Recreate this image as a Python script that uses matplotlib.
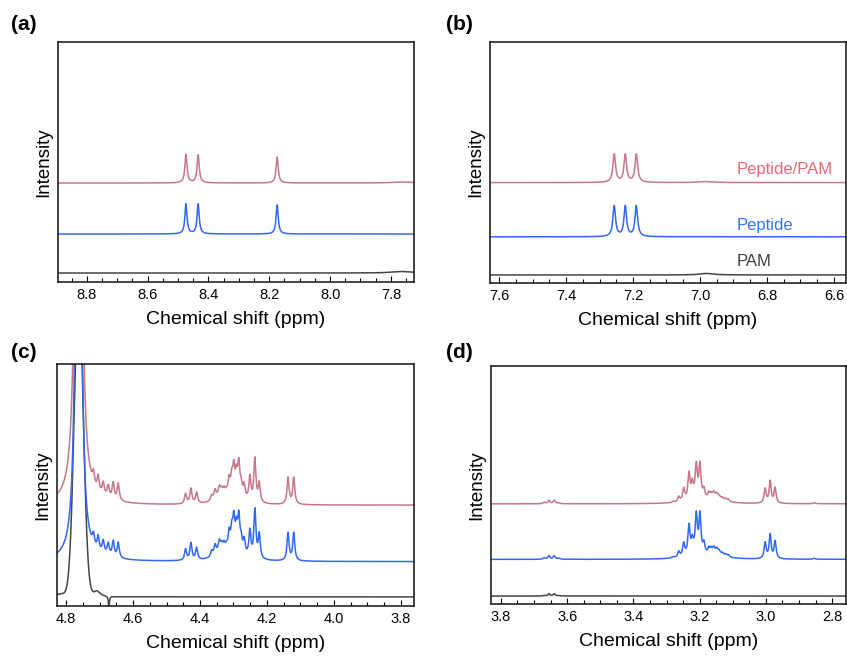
import numpy as np
import matplotlib
matplotlib.use('Agg')
from matplotlib import pyplot as plt
from matplotlib.ticker import MultipleLocator

plt.rcParams['font.family'] = ['Liberation Sans', 'DejaVu Sans']

samples = ['PAM', 'Peptide', 'Peptide/PAM']
line_colors = {'PAM': '#454545', 'Peptide': '#3069f2', 'Peptide/PAM': '#c9758a'}
text_colors = {'PAM': '#3f3f3f', 'Peptide': '#3377f5', 'Peptide/PAM': '#ef6673'}

# (a) amide region: peak shifts (ppm), half widths, heights per sample
a_ppm = [8.474, 8.434, 8.174, 7.76]
a_width = [0.0042, 0.0042, 0.0042, 0.04]
a_mix = [28.5, 28, 26, 1.0]
a_pep = [30, 30, 29, 0]
a_pam = [0, 0, 0, 1.5]
a_offset = [9, 48, 99]
a_xlim = (8.895, 7.724)

# (b) aromatic region
b_ppm = [7.256, 7.223, 7.190, 6.98]
b_width = [0.0047, 0.0047, 0.0047, 0.025]
b_mix = [28, 27.5, 28, 1.0]
b_pep = [30.5, 30, 30.5, 0]
b_pam = [0, 0, 0, 1.5]
b_offset = [8, 46, 100]
b_xlim = (7.627, 6.564)

# (c) alpha-H region incl. residual water
c_ppm = [4.763, 4.718, 4.704, 4.689, 4.674, 4.659, 4.644, 4.68,
         4.443, 4.427, 4.410,
         4.365, 4.355, 4.342, 4.335, 4.328, 4.321, 4.34,
         4.313, 4.305, 4.299, 4.291, 4.284, 4.277, 4.268, 4.295,
         4.251, 4.236, 4.223, 4.137, 4.120,
         4.708, 4.815, 4.672]
c_width = [0.005, 0.0036, 0.0036, 0.0036, 0.0036, 0.0036, 0.0036, 0.03,
           0.0036, 0.0036, 0.0036,
           0.0036, 0.0036, 0.0036, 0.0036, 0.0036, 0.0036, 0.02,
           0.0036, 0.0036, 0.0036, 0.0036, 0.0036, 0.0036, 0.0036, 0.02,
           0.0036, 0.0036, 0.0036, 0.0036, 0.0036,
           0.012, 0.02, 0.0015]
c_mix = [1800, 12, 15, 12, 11, 16, 17, 2,
         10, 15, 11,
         5, 8.5, 8, 5, 6, 4, 7,
         15, 15, 23, 16, 29, 10, 13, 11,
         24, 43, 19, 26.5, 26.5,
         0, 0, 0]
c_pep = [1400, 11, 14, 12, 11, 15, 15, 2,
         11, 17, 12,
         5.5, 9, 9, 5.5, 6.5, 4.5, 8,
         17, 17, 26, 18, 31, 11, 14, 12,
         26, 48, 24, 27.5, 27.5,
         0, 0, 0]
c_pam = [0, 0, 0, 0, 0, 0, 0, 0,
         0, 0, 0,
         0, 0, 0, 0, 0, 0, 0,
         0, 0, 0, 0, 0, 0, 0, 0,
         0, 0, 0, 0, 0,
         6, 3, -14]
# PAM water line is narrower and gaussian-like
c_pam_gauss_ppm = [4.762]
c_pam_gauss_height = [300]
c_pam_gauss_width = [0.0135]
c_offset = [9, 44, 100]
c_xlim = (4.827, 3.761)

# (d) side-chain region
d_ppm = [3.669, 3.655, 3.639, 3.625,
         3.280, 3.263, 3.248, 3.232, 3.222, 3.210, 3.199, 3.187,
         3.172, 3.165, 3.157, 3.148, 3.141, 3.131, 3.121, 3.113,
         3.215, 3.15,
         3.002, 2.987, 2.972, 2.854]
d_width = [0.0036] * 20 + [0.025, 0.025] + [0.0036, 0.0036, 0.0036, 0.004]
d_mix = [1.5, 3.5, 3.5, 1,
         1, 5, 12, 25, 13, 31, 33, 9,
         5.5, 4, 5, 3.5, 2, 2, 2, 2,
         6, 5.5,
         14.5, 22, 15.5, 1]
d_pep = [1.5, 3.5, 3.5, 1,
         1, 5.5, 12.5, 28, 11, 36, 38, 10,
         5.5, 4.5, 5, 4, 2.5, 2, 2, 2,
         6.5, 5.5,
         16, 24, 17.5, 1]
d_pam = [0.5, 2.3, 2.3, 0.5] + [0] * 22
d_offset = [8, 45, 101]
d_xlim = (3.83, 2.758)


def lorentz(x, ppm, height, width):
    y = np.zeros_like(x)
    for p, h, w in zip(ppm, height, width):
        y += h * w ** 2 / ((x - p) ** 2 + w ** 2)
    return y


def gauss(x, ppm, height, width):
    y = np.zeros_like(x)
    for p, h, w in zip(ppm, height, width):
        y += h * np.exp(-(x - p) ** 2 / (2 * w ** 2))
    return y


def draw_panel(ax, xlim, ppm, width, heights, offsets, extra=None):
    x = np.linspace(xlim[1], xlim[0], 8000)
    for name, h, off in zip(samples, heights, offsets):
        y = off + lorentz(x, ppm, h, width)
        if extra is not None and name in extra:
            y = y + gauss(x, *extra[name])
        ax.plot(x, y, color=line_colors[name], lw=1.1)
    ax.set_xlim(*xlim)
    ax.set_ylim(0, 240)
    ax.set_yticks([])
    ax.xaxis.set_major_locator(MultipleLocator(0.2))
    ax.xaxis.set_minor_locator(MultipleLocator(0.05))
    ax.tick_params(axis='x', which='both', direction='in', top=False, labelsize=10.5, width=0.8, pad=4)
    ax.tick_params(axis='x', which='major', length=4)
    ax.tick_params(axis='x', which='minor', length=3)
    for s in ax.spines.values():
        s.set_linewidth(1.2)
        s.set_color('#222222')
    ax.set_xlabel('Chemical shift (ppm)', fontsize=14, labelpad=7)
    ax.set_ylabel('Intensity', fontsize=13.5, labelpad=4)


fig = plt.figure(figsize=(8.47, 6.59), dpi=100)
W, H = 847, 659


def axes_px(left, top, right, bottom):
    return fig.add_axes([left / W, 1 - bottom / H, (right - left) / W, (bottom - top) / H])


ax_a = axes_px(58, 42, 414, 282)
ax_b = axes_px(490, 42, 846, 283)
ax_c = axes_px(57, 364, 414, 606)
ax_d = axes_px(491, 366, 846, 604)

draw_panel(ax_a, a_xlim, a_ppm, a_width, [a_pam, a_pep, a_mix], a_offset)
draw_panel(ax_b, b_xlim, b_ppm, b_width, [b_pam, b_pep, b_mix], b_offset)
draw_panel(ax_c, c_xlim, c_ppm, c_width, [c_pam, c_pep, c_mix], c_offset,
           extra={'PAM': (c_pam_gauss_ppm, c_pam_gauss_height, c_pam_gauss_width)})
draw_panel(ax_d, d_xlim, d_ppm, d_width, [d_pam, d_pep, d_mix], d_offset)

# sample labels in panel (b)
label_y = {'Peptide/PAM': 113, 'Peptide': 57, 'PAM': 21}
for name in samples:
    ax_b.text(6.89, label_y[name], name, color=text_colors[name], fontsize=12,
              ha='left', va='center')

for lab, px, py in [('(a)', 11, 25), ('(b)', 446, 25), ('(c)', 11, 352), ('(d)', 446, 352)]:
    fig.text(px / W, 1 - py / H, lab, fontsize=15, fontweight='bold', ha='left', va='center')

fig.savefig('out.png', dpi=100)
